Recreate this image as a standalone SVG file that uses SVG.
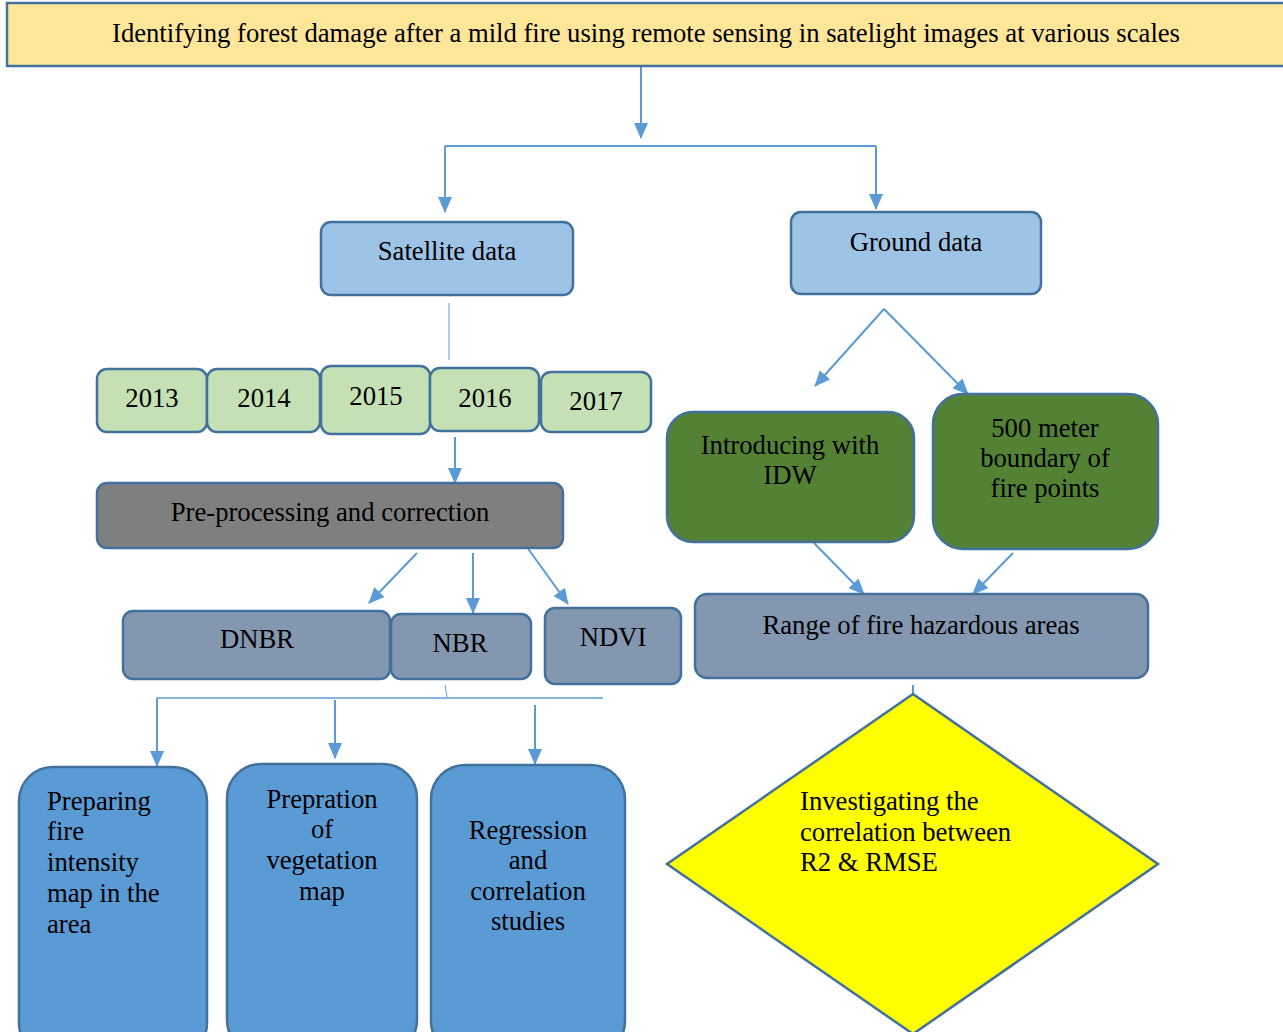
<svg xmlns="http://www.w3.org/2000/svg" width="1283" height="1032" viewBox="0 0 1283 1032">
<style>
text{font-family:"Liberation Serif","Times New Roman",serif;font-size:26.7px;fill:#000}
.c{text-anchor:middle}
.box{stroke:#41719C;stroke-width:2.5}
.ln{stroke:#5B9BD5;stroke-width:2;fill:none}
.ar{marker-end:url(#ah)}
</style>
<defs>
<marker id="ah" viewBox="0 0 16 14" refX="15" refY="7" markerWidth="16" markerHeight="14" markerUnits="userSpaceOnUse" orient="auto">
<path d="M0,0 L16,7 L0,14 z" fill="#5B9BD5"/>
</marker>
</defs>
<rect width="1283" height="1032" fill="#fff"/>
<g id="connectors">
<path class="ln ar" d="M641,62 V138"/>
<path class="ln" d="M445,146 H876"/>
<path class="ln ar" d="M445,146 V212"/>
<path class="ln ar" d="M876,146 V209"/>
<path class="ln" d="M449,303 V360" style="stroke-width:1"/>
<path class="ln ar" d="M455,437 V483"/>
<path class="ln ar" d="M417,553 L369,603"/>
<path class="ln ar" d="M473,553 V613"/>
<path class="ln ar" d="M524,543 L568,604"/>
<path class="ln" d="M445,685 L447,697" style="stroke-width:1"/>
<path class="ln" d="M157,698 H603" style="stroke-width:1.5"/>
<path class="ln ar" d="M157,698 V766"/>
<path class="ln ar" d="M335,700 V758"/>
<path class="ln ar" d="M535,705 V764"/>
<path class="ln ar" d="M884,309 L815,386"/>
<path class="ln ar" d="M884,309 L968,394"/>
<path class="ln ar" d="M814,543 L864,594"/>
<path class="ln ar" d="M1013,553 L973,594"/>
<path class="ln" d="M913,685 V695"/>
</g>
<g id="title">
<rect class="box" x="7" y="3" width="1290" height="63" fill="#FFE699"/>
<text class="c" x="646" y="42" textLength="1068" lengthAdjust="spacingAndGlyphs">Identifying forest damage after a mild fire using remote sensing in satelight images at various scales</text>
</g>
<g id="satellite">
<rect class="box" x="321" y="222" width="252" height="73" rx="10" fill="#9DC3E6"/>
<text class="c" x="447" y="260">Satellite data</text>
</g>
<g id="ground">
<rect class="box" x="791" y="212" width="250" height="82" rx="10" fill="#9DC3E6"/>
<text class="c" x="916" y="251">Ground data</text>
</g>
<g id="y2013"><rect class="box" x="97" y="369" width="110" height="63" rx="10" fill="#C5E0B4"/><text class="c" x="152" y="407">2013</text></g>
<g id="y2014"><rect class="box" x="207" y="369" width="113" height="63" rx="10" fill="#C5E0B4"/><text class="c" x="264" y="407">2014</text></g>
<g id="y2015"><rect class="box" x="321" y="366" width="109" height="68" rx="10" fill="#C5E0B4"/><text class="c" x="376" y="405">2015</text></g>
<g id="y2016"><rect class="box" x="430" y="368" width="109" height="63" rx="10" fill="#C5E0B4"/><text class="c" x="485" y="407">2016</text></g>
<g id="y2017"><rect class="box" x="541" y="372" width="110" height="60" rx="10" fill="#C5E0B4"/><text class="c" x="596" y="410">2017</text></g>
<g id="preproc">
<rect class="box" x="97" y="483" width="466" height="65" rx="10" fill="#7F7F7F"/>
<text class="c" x="330" y="521">Pre-processing and correction</text>
</g>
<g id="dnbr"><rect class="box" x="123" y="611" width="267" height="68" rx="10" fill="#8497B0"/><text class="c" x="257" y="648">DNBR</text></g>
<g id="nbr"><rect class="box" x="391" y="614" width="140" height="65" rx="10" fill="#8497B0"/><text class="c" x="460" y="652">NBR</text></g>
<g id="ndvi"><rect class="box" x="545" y="608" width="136" height="76" rx="10" fill="#8497B0"/><text class="c" x="613" y="646">NDVI</text></g>
<g id="idw">
<rect class="box" x="667" y="412" width="247" height="130" rx="26" fill="#548235"/>
<text class="c" x="790" y="454">Introducing with</text>
<text class="c" x="790" y="484">IDW</text>
</g>
<g id="boundary">
<rect class="box" x="933" y="394" width="225" height="155" rx="30" fill="#548235"/>
<text class="c" x="1045" y="437">500 meter</text>
<text class="c" x="1045" y="467">boundary of</text>
<text class="c" x="1045" y="497">fire points</text>
</g>
<g id="range">
<rect class="box" x="695" y="594" width="453" height="84" rx="12" fill="#8497B0"/>
<text class="c" x="921" y="634">Range of fire hazardous areas</text>
</g>
<g id="firemap">
<rect class="box" x="19" y="767" width="188" height="290" rx="34" fill="#5B9BD5"/>
<text x="47" y="810">Preparing</text>
<text x="47" y="840">fire</text>
<text x="47" y="871">intensity</text>
<text x="47" y="902">map in the</text>
<text x="47" y="933">area</text>
</g>
<g id="vegmap">
<rect class="box" x="227" y="764" width="190" height="290" rx="34" fill="#5B9BD5"/>
<text class="c" x="322" y="808">Prepration</text>
<text class="c" x="322" y="838">of</text>
<text class="c" x="322" y="869">vegetation</text>
<text class="c" x="322" y="900">map</text>
</g>
<g id="regression">
<rect class="box" x="431" y="765" width="194" height="290" rx="34" fill="#5B9BD5"/>
<text class="c" x="528" y="839">Regression</text>
<text class="c" x="528" y="869">and</text>
<text class="c" x="528" y="900">correlation</text>
<text class="c" x="528" y="930">studies</text>
</g>
<g id="investigate">
<polygon class="box" points="913,694 1158,864 913,1034 667,864" fill="#FFFF00"/>
<text x="800" y="810">Investigating the</text>
<text x="800" y="841">correlation between</text>
<text x="800" y="871">R2 &amp; RMSE</text>
</g>
</svg>
